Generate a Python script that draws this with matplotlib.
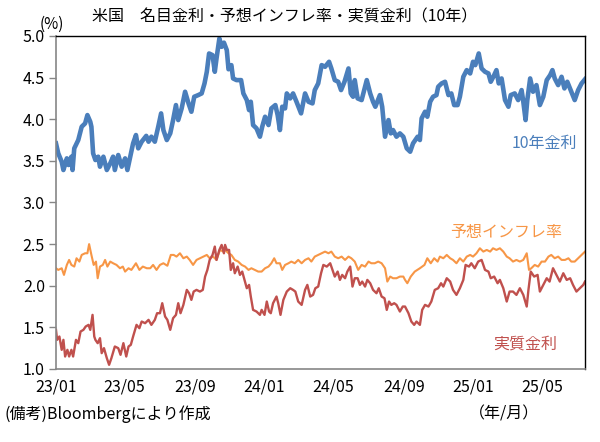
import pandas as pd
import matplotlib
matplotlib.use('Agg')
from matplotlib import pyplot as plt
import matplotlib.dates as mdates

plt.rcParams['font.family'] = ['Noto Sans CJK JP', 'DejaVu Sans']

start = pd.Timestamp('2023-01-01')
end = pd.Timestamp('2025-07-15')

# 10年金利 (days since 2023-01-01, %)
nominal_days = [0, 4, 10, 13, 19, 22, 27, 29, 32, 39,
                45, 51, 55, 60, 62, 65, 69, 74, 77, 83,
                89, 95, 100, 103, 109, 115, 121, 125, 130, 135,
                140, 144, 150, 158, 162, 167, 173, 179, 184, 188,
                194, 200, 205, 210, 214, 220, 226, 232, 237, 242,
                249, 255, 260, 264, 268, 274, 278, 281, 286, 290,
                294, 299, 302,
                307, 310, 316, 324, 328, 334, 338, 341, 345, 351,
                357, 361, 366, 372, 377, 384, 388, 392, 396, 401,
                404, 410, 415, 421, 429, 436, 442, 449, 453, 459,
                465, 471, 478, 482, 488, 494, 499, 505, 512, 516,
                520, 523, 528, 535, 544, 550, 555, 559, 567, 571,
                576, 582, 586, 590, 596, 602, 608, 614,
                620, 625, 633, 637, 640, 646, 650, 655, 660, 666,
                669, 675, 681, 687, 692, 697, 703, 707, 713, 719,
                725, 730, 734, 740, 745, 751, 757, 761, 767, 771,
                775, 780, 786, 792, 796, 803, 809, 815, 818, 822,
                825, 830, 835, 841, 847, 853, 859, 865, 869, 873,
                879, 885, 890, 895, 902, 908, 914, 920, 926]
nominal_rate = [3.71, 3.59, 3.49, 3.39, 3.53, 3.45, 3.55, 3.39, 3.65, 3.75,
                3.91, 3.95, 4.05, 3.97, 3.91, 3.59, 3.51, 3.55, 3.43, 3.55,
                3.39, 3.47, 3.55, 3.39, 3.57, 3.43, 3.53, 3.39, 3.55, 3.71,
                3.81, 3.65, 3.73, 3.80, 3.73, 3.79, 3.73, 3.91, 4.07, 3.87,
                3.75, 3.83, 3.99, 4.17, 3.99, 4.13, 4.33, 4.19, 4.09, 4.27,
                4.29, 4.31, 4.43, 4.57, 4.79, 4.77, 4.57, 4.73, 4.97, 4.87,
                4.92, 4.83, 4.60,
                4.65, 4.49, 4.47, 4.47, 4.31, 4.23, 4.11, 4.21, 3.93, 3.89,
                3.79, 3.91, 4.03, 3.93, 4.13, 4.17, 4.05, 3.87, 4.15, 4.13,
                4.31, 4.25, 4.31, 4.21, 4.07, 4.31, 4.21, 4.19, 4.35, 4.43,
                4.65, 4.63, 4.69, 4.61, 4.47, 4.45, 4.35, 4.45, 4.61, 4.31,
                4.27, 4.47, 4.25, 4.23, 4.47, 4.31, 4.21, 4.15, 4.29, 4.15,
                3.79, 3.99, 3.83, 3.87, 3.79, 3.83, 3.79, 3.65,
                3.61, 3.71, 3.79, 3.75, 4.01, 4.09, 4.03, 4.21, 4.27, 4.29,
                4.39, 4.43, 4.45, 4.29, 4.31, 4.17, 4.17, 4.27, 4.51, 4.59,
                4.55, 4.69, 4.65, 4.79, 4.61, 4.57, 4.55, 4.45, 4.53, 4.59,
                4.43, 4.49, 4.23, 4.15, 4.29, 4.31, 4.23, 4.35, 4.21, 3.99,
                4.23, 4.49, 4.33, 4.41, 4.17, 4.27, 4.47, 4.53, 4.59, 4.49,
                4.41, 4.51, 4.37, 4.45, 4.33, 4.23, 4.35, 4.43, 4.48]

# 予想インフレ率
bei_days = [0, 4, 10, 14, 19, 23, 27, 32, 36, 41,
            45, 51, 55, 58, 62, 66, 70, 73, 77, 82,
            86, 90, 95, 100, 106, 112, 117, 121, 127, 132,
            140, 146, 152, 159, 165, 170, 176, 182, 188, 195,
            201, 206, 211, 217, 223, 229, 234, 240, 246, 252,
            258, 264, 269, 275, 281, 287, 293,
            296, 302, 307, 313, 319, 325, 331, 337, 342, 348,
            354, 360, 366, 372, 377, 382, 386, 392, 396, 401,
            407, 412, 418, 424, 430, 436, 442, 447, 453, 459,
            465, 471, 477, 482, 488, 494, 500, 506, 512, 517,
            523, 529, 535, 541, 547, 552, 558, 564, 570, 576,
            580, 585, 590, 596, 602, 608,
            611, 615, 621, 628, 637, 645, 650, 656, 662, 668,
            672, 678, 684, 690, 695, 701, 707, 713, 719, 725,
            730, 736, 742, 748, 754, 760, 765, 771, 777, 783,
            789, 794, 800, 806, 812, 818, 824, 828, 832, 838,
            844, 850, 856, 862, 867, 873, 879, 885, 891, 897,
            902, 908, 914, 920, 926]
bei_rate = [2.21, 2.19, 2.21, 2.13, 2.25, 2.31, 2.25, 2.23, 2.33, 2.29,
            2.37, 2.39, 2.39, 2.50, 2.37, 2.25, 2.29, 2.09, 2.23, 2.25,
            2.31, 2.23, 2.29, 2.27, 2.25, 2.21, 2.23, 2.17, 2.21, 2.19,
            2.27, 2.19, 2.23, 2.21, 2.21, 2.25, 2.19, 2.25, 2.27, 2.24,
            2.37, 2.37, 2.35, 2.39, 2.33, 2.35, 2.31, 2.25, 2.31, 2.33,
            2.35, 2.37, 2.33, 2.35, 2.31, 2.43, 2.41,
            2.43, 2.39, 2.37, 2.31, 2.29, 2.25, 2.23, 2.19, 2.21, 2.19,
            2.17, 2.17, 2.21, 2.23, 2.27, 2.33, 2.27, 2.27, 2.19, 2.25,
            2.27, 2.29, 2.27, 2.31, 2.27, 2.31, 2.33, 2.29, 2.35, 2.37,
            2.39, 2.41, 2.39, 2.41, 2.35, 2.33, 2.35, 2.31, 2.35, 2.33,
            2.29, 2.19, 2.25, 2.23, 2.29, 2.27, 2.27, 2.29, 2.27, 2.21,
            2.05, 2.11, 2.09, 2.09, 2.11, 2.11,
            2.07, 2.03, 2.11, 2.17, 2.21, 2.25, 2.33, 2.27, 2.33, 2.29,
            2.35, 2.33, 2.37, 2.33, 2.31, 2.27, 2.33, 2.29, 2.35, 2.37,
            2.35, 2.39, 2.45, 2.41, 2.43, 2.41, 2.45, 2.43, 2.45, 2.41,
            2.35, 2.33, 2.29, 2.31, 2.29, 2.31, 2.39, 2.19, 2.21, 2.25,
            2.23, 2.29, 2.29, 2.35, 2.37, 2.33, 2.35, 2.31, 2.31, 2.33,
            2.29, 2.29, 2.33, 2.37, 2.41]

# 実質金利
real_days = [0, 2, 6, 10, 13, 16, 20, 23, 27, 30,
             35, 39, 43, 48, 52, 57, 60, 64, 67, 69,
             73, 77, 80, 84, 89, 93, 97, 103, 109, 113,
             118, 123, 127, 131, 135, 141, 146, 150, 156, 162,
             167, 173, 177, 182, 186, 191, 195, 200, 205, 210,
             214, 218, 223, 229, 233, 237, 241, 246, 252, 257,
             261, 265, 269, 274, 278, 281, 286, 290, 294,
             296, 299, 303, 306, 310, 313, 318, 322, 326, 330,
             334, 338, 341, 345, 351, 357, 360, 365, 369, 373,
             376, 380, 386, 389, 393, 398, 404, 410, 415, 419,
             424, 430, 436, 440, 445, 450, 454, 459, 464, 468,
             474, 480, 484, 488, 493, 497, 501, 506, 510, 515,
             519, 523, 528, 532, 536, 541, 545, 550, 555, 561,
             565, 570, 575, 579, 583, 587, 592, 596, 602, 607,
             611, 617, 622, 627, 631, 637, 641, 646, 652, 657,
             663, 669, 674, 678, 684, 690, 695, 701, 707, 713,
             717, 723, 727, 733, 739, 745, 751, 757, 761, 767,
             773, 777, 783, 789, 794, 800, 806, 812, 818, 824,
             827, 831, 837, 843, 847, 853, 859, 864, 870, 876,
             882, 888, 894, 900, 905, 911, 917, 923, 926]
real_rate = [1.47, 1.35, 1.39, 1.23, 1.35, 1.15, 1.23, 1.15, 1.23, 1.15,
             1.35, 1.31, 1.45, 1.47, 1.51, 1.53, 1.47, 1.65, 1.39, 1.35,
             1.31, 1.37, 1.19, 1.25, 1.13, 1.05, 1.13, 1.27, 1.25, 1.17,
             1.31, 1.15, 1.27, 1.29, 1.39, 1.53, 1.49, 1.57, 1.55, 1.59,
             1.53, 1.59, 1.67, 1.67, 1.79, 1.63, 1.59, 1.47, 1.61, 1.65,
             1.79, 1.67, 1.77, 1.95, 1.91, 1.83, 1.93, 1.95, 1.93, 1.95,
             2.11, 2.19, 2.31, 2.37, 2.47, 2.31, 2.43, 2.49, 2.39,
             2.49, 2.43, 2.43, 2.19, 2.27, 2.15, 2.23, 2.13, 2.17, 2.07,
             1.97, 2.01, 1.87, 1.71, 1.69, 1.65, 1.71, 1.65, 1.81, 1.69,
             1.67, 1.79, 1.87, 1.79, 1.65, 1.83, 1.93, 1.97, 1.95, 1.93,
             1.81, 1.77, 1.95, 2.01, 1.87, 1.89, 1.97, 1.99, 2.15, 2.25,
             2.23, 2.27, 2.19, 2.11, 2.17, 2.07, 2.13, 2.09, 2.17, 2.23,
             1.99, 2.09, 2.09, 2.01, 2.05, 1.99, 2.07, 2.03, 1.95, 1.91,
             1.97, 1.87, 1.85, 1.71, 1.81, 1.77, 1.79, 1.77, 1.69, 1.75,
             1.75, 1.67, 1.57, 1.53, 1.57, 1.53, 1.71, 1.77, 1.75, 1.81,
             1.95, 1.97, 2.03, 1.99, 2.09, 2.05, 1.95, 1.89, 1.97, 2.07,
             2.25, 2.23, 2.27, 2.21, 2.29, 2.31, 2.19, 2.17, 2.09, 2.11,
             2.03, 2.07, 1.97, 1.81, 1.93, 1.93, 1.89, 1.97, 1.89, 1.75,
             1.95, 2.17, 2.11, 2.13, 1.93, 2.01, 2.09, 2.05, 2.21, 2.13,
             2.05, 2.15, 2.07, 2.09, 2.01, 1.93, 1.97, 2.01, 2.05]

y_ticks = [1.0, 1.5, 2.0, 2.5, 3.0, 3.5, 4.0, 4.5, 5.0]

blue = '#4A7EBB'
orange = '#F79646'
red = '#C0504D'
gray = '#868686'


def to_dates(days):
    return start + pd.to_timedelta(days, unit='D')


fig = plt.figure(figsize=(6, 4.42), dpi=100)
ax = fig.add_axes([0.0933, 0.1652, 0.8817, 0.7534])

ax.plot(to_dates(nominal_days), nominal_rate, color=blue, lw=3.3, solid_joinstyle='round')
ax.plot(to_dates(bei_days), bei_rate, color=orange, lw=1.5)
ax.plot(to_dates(real_days), real_rate, color=red, lw=1.7)

ax.set_xlim(start, end)
ax.set_ylim(1.0, 5.0)
ax.set_yticks(y_ticks)
ax.set_yticklabels([f'{v:.1f}' for v in y_ticks])
ax.xaxis.set_major_locator(mdates.MonthLocator(bymonth=[1, 5, 9]))
ax.xaxis.set_major_formatter(mdates.DateFormatter('%y/%m'))

ax.tick_params(axis='y', length=5, width=1, color=gray, pad=3, labelsize=11.5)
ax.tick_params(axis='x', length=0, pad=7, labelsize=11.5)

for side in ['left', 'bottom']:
    ax.spines[side].set_color(gray)
    ax.spines[side].set_linewidth(1.2)
for side in ['top', 'right']:
    ax.spines[side].set_color('black')
    ax.spines[side].set_linewidth(1.0)

ax.text(0.923, 0.676, '10年金利', transform=ax.transAxes, color=blue,
        fontsize=11.5, ha='center', va='center')
ax.text(0.850, 0.411, '予想インフレ率', transform=ax.transAxes, color=orange,
        fontsize=11.5, ha='center', va='center')
ax.text(0.8875, 0.075, '実質金利', transform=ax.transAxes, color=red,
        fontsize=11.5, ha='center', va='center')

fig.text(285 / 600, 1 - 17 / 442, '米国　名目金利・予想インフレ率・実質金利（10年）',
         fontsize=11.5, ha='center', va='center')
fig.text(52 / 600, 1 - 24 / 442, '(%)', fontsize=11, ha='center', va='center')
fig.text(4 / 600, 1 - 414 / 442, '(備考)Bloombergにより作成', fontsize=11.5,
         ha='left', va='center')
fig.text(504 / 600, 1 - 414 / 442, '（年/月）', fontsize=11.5, ha='center', va='center')

fig.savefig('out.png', dpi=100)
